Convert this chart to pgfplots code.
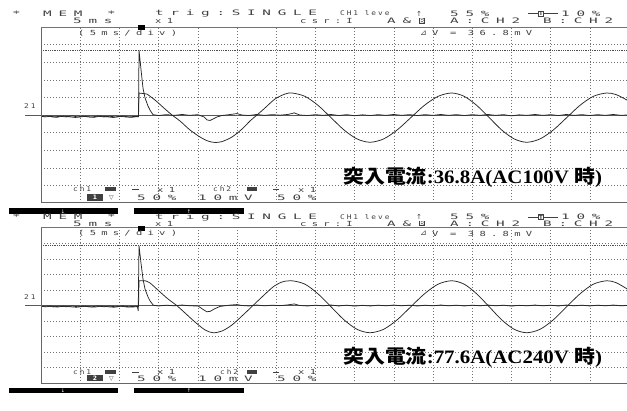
\documentclass[border=0pt]{standalone}
\usepackage{pgfplots}
\pgfplotsset{compat=1.18}
\usepackage{fontspec}
\usepackage{graphicx}
\setmainfont{DejaVu Sans}
\newfontfamily\scr[FakeStretch=1.9,LetterSpace=90]{DejaVu Sans Mono}
\newfontfamily\scm[FakeStretch=1.5,LetterSpace=75]{DejaVu Sans Mono}
\newfontfamily\scn[FakeStretch=1.2,LetterSpace=30]{DejaVu Sans Mono}
\newfontfamily\jp{Noto Sans CJK JP}
\newfontfamily\lser{Liberation Serif}
\definecolor{txt}{gray}{0.25}
\definecolor{grd}{gray}{0.45}
\definecolor{trc}{gray}{0.15}
\pgfplotsset{
  panel/.style={scale only axis, width=588pt, xmin=0, xmax=75, ymin=-5, ymax=5,
    axis line style={draw=none}, xtick={5,10,...,70}, ytick={-4,-3,-2,-1,1,2,3,4},
    tick style={draw=none}, xticklabels={}, yticklabels={}, grid=major,
    major grid style={grd, line width=0.5pt, dash pattern=on 0.6pt off 2.4pt}},
  trace/.style={trc, line width=0.75pt, no marks}
}
\tikzset{
  hdr/.style={anchor=west, inner sep=0, text=txt, font=\scr\fontsize{7.5}{7.5}\selectfont},
  hdm/.style={anchor=west, inner sep=0, text=txt, font=\scm\fontsize{7}{7}\selectfont},
  hdn/.style={anchor=west, inner sep=0, text=txt, font=\scn\fontsize{6.5}{6.5}\selectfont},
  big/.style={anchor=west, inner sep=0, font=\fontsize{19}{19}\selectfont\bfseries}
}
\begin{document}
\begin{tikzpicture}[x=1pt,y=1pt]
\useasboundingbox (0,0) rectangle (627,410);
\clip (0,0) rectangle (627,410);
% ================= TOP HEADER =================
\node[hdr] at (12,396.5) {*};
\node[hdr] at (43,396.5) {MEM};
\node[hdr] at (107,396.5) {*};
\node[hdr] at (155,396.5) {trig:SINGLE};
\node[hdn] at (340,396.5) {CH1 leve};
\node[anchor=west,inner sep=0,text=txt,font=\fontsize{7}{7}\selectfont] at (416,396.5) {↑};
\node[hdr] at (450,396.5) {55\%};
\draw[txt,line width=0.6pt] (528,396.5) -- (558,396.5);
\node[draw=txt,fill=white,inner sep=0.6pt,text=txt,font=\bfseries\fontsize{5.5}{5.5}\selectfont] at (541,396.5) {T};
\node[hdr] at (561,396.5) {10\%};
\node[hdr] at (73,389.2) {5ms};
\node[hdm] at (155,389.2) {x1};
\node[hdm] at (300,389.2) {csr:I};
\node[hdr] at (387,389.2) {A\&};
\node[fill=txt,text=white,inner sep=0.5pt,anchor=west,font=\bfseries\fontsize{6.5}{6.5}\selectfont] at (419,389.2) {B};
\node[hdr] at (450,389.2) {A:CH2};
\node[hdr] at (543,389.2) {B:CH2};
% ================= TOP PANEL =================
\draw[black!65, line width=0.6pt] (25,295) -- (627,295);
\node[hdn] at (24,304) {21};
\begin{axis}[panel, at={(41pt,207pt)}, anchor=south west, height=176pt]
\draw[black!70, line width=0.5pt, dash pattern=on 0.6pt off 1.2pt] (axis cs:0,3.68) -- (axis cs:75,3.68);
\addplot[trace] coordinates {(0,-0.06)(0.5,-0.11)(1.2,-0.07)(2.0,-0.13)(2.8,-0.06)(3.6,-0.10)(4.4,-0.14)(5.2,-0.07)(6.0,-0.10)(6.8,-0.13)(7.6,-0.06)(8.4,-0.10)(9.2,-0.14)(10.0,-0.07)(10.8,-0.11)(11.6,-0.13)(12.44,-0.08)(12.5,1.25)(13.52,1.19)};
\addplot[trace, smooth] coordinates {(13.52,1.19)(14.54,0.85)(15.82,0.34)(16.71,0)(17.73,-0.34)(19.0,-0.85)(20.28,-1.25)(21.3,-1.48)(22.19,-1.56)(23.09,-1.51)(24.36,-1.25)(25.64,-0.80)(26.66,-0.34)(27.55,0)(28.57,0.40)(29.85,0.91)(31.12,1.19)(32.02,1.25)(33.67,1.06)(35.33,0.55)(36.99,-0.15)(38.65,-0.85)(40.31,-1.36)(41.96,-1.55)(43.70,-1.36)(45.43,-0.85)(47.17,-0.15)(48.91,0.55)(50.65,1.06)(52.38,1.25)(53.98,1.06)(55.57,0.55)(57.17,-0.15)(58.76,-0.85)(60.36,-1.36)(61.96,-1.55)(63.65,-1.36)(65.35,-0.85)(67.05,-0.15)(68.75,0.55)(70.45,1.06)(72.15,1.25)(73.34,1.16)(74.74,0.85)(75.5,0.6)};
\addplot[trace] coordinates {(0,-0.10)(0.8,-0.05)(1.6,-0.12)(2.4,-0.07)(3.2,-0.11)(4.0,-0.05)(4.8,-0.12)(5.6,-0.08)(6.4,-0.12)(7.2,-0.06)(8.0,-0.11)(8.8,-0.07)(9.6,-0.12)(10.4,-0.06)(11.2,-0.11)(12.0,-0.08)(12.44,-0.10)(12.5,3.69)(12.76,2.56)(13.01,1.53)(13.27,0.97)(13.65,0.51)(13.90,0.28)(14.29,0.02)(15,-0.03)(16,0.02)(17,-0.02)(18,0.03)(19,-0.02)(20,0.02)(20.79,-0.11)(21.17,-0.28)(21.56,-0.31)(21.94,-0.23)(22.45,-0.11)(23.09,-0.03)(24,0.02)(25,0.08)(25.6,0.0)(26.5,-0.03)(27.5,0.03)(28.5,-0.02)(29.5,0.02)(30.5,-0.01)(31.5,0.03)(32.3,0.12)(33,0.0)(34,-0.03)(35,0.02)(36,-0.02)(37,0.03)(38,-0.03)(39,0.02)(40,-0.04)(41,0.01)(42,-0.03)(43,0.02)(44,-0.02)(45,0.03)(46,-0.02)(47,0.02)(48,-0.03)(49,0.02)(50,-0.02)(51,0.03)(52,-0.02)(53,0.02)(54,-0.03)(55,0.02)(56,-0.02)(57,0.03)(58,-0.02)(59,0.02)(60,-0.05)(61,0.01)(62,-0.02)(63,0.03)(64,-0.02)(65,0.02)(66,-0.03)(67,0.03)(68,-0.02)(69,0.02)(70,-0.03)(71,0.02)(72,-0.02)(73,0.03)(74,-0.02)(75,0.01)};
\end{axis}
\draw[black!60, line width=1pt] (41,383) -- (41,207);
\draw[black!55, line width=0.6pt] (41,383) -- (627,383);
\draw[black!60, line width=1pt] (41,207) -- (627,207);
\fill[black] (138,385) rectangle (145,380);
\node[hdm] at (78,377) {(5ms/div)};
\node[anchor=west,inner sep=0,text=txt,font=\fontsize{8}{8}\selectfont] at (420,377) {⊿};
\node[hdm] at (432,377) {V = 36.8mV};
\node[hdn] at (73,220.5) {ch1};
\fill[txt] (105,222.5) rectangle (116,218.5);
\draw[txt,line width=0.6pt] (132,220.5) -- (139,220.5);
\node[hdm] at (157,220.5) {x1};
\node[hdn] at (213,220.5) {ch2};
\fill[txt] (247,222.5) rectangle (257,218.5);
\draw[txt,line width=0.6pt] (273,220.5) -- (279,220.5);
\node[hdm] at (298,220.5) {x1};
\fill[txt] (87,216) rectangle (103,209);
\node[text=white,inner sep=0,font=\bfseries\fontsize{6}{6}\selectfont] at (95,212.5) {1};
\node[anchor=west,inner sep=0,text=txt,font=\fontsize{6}{6}\selectfont] at (109,212.5) {▽};
\node[hdr] at (137,212.5) {50\%};
\node[hdr] at (198,212.5) {10mV};
\node[hdr] at (277,212.5) {50\%};
\node[big] at (343,233) {\scalebox{1.1}[1]{\jp 突入電流\lser :36.8A(AC100V \jp 時\lser )}};
\fill[black] (9,201.5) rectangle (118,195.5);
\fill[black] (134,201.5) rectangle (244,195.5);
\node[text=white,inner sep=0,font=\fontsize{5}{5}\selectfont] at (63,198.5) {↓};
\node[text=white,inner sep=0,font=\fontsize{5}{5}\selectfont] at (189,198.5) {↑};
% ================= BOTTOM HEADER =================
\node[hdr] at (12,193) {*};
\node[hdr] at (43,193) {MEM};
\node[hdr] at (107,193) {*};
\node[hdr] at (155,193) {trig:SINGLE};
\node[hdn] at (340,193) {CH1 leve};
\node[anchor=west,inner sep=0,text=txt,font=\fontsize{7}{7}\selectfont] at (416,193) {↑};
\node[hdr] at (450,193) {55\%};
\draw[txt,line width=0.6pt] (528,193) -- (558,193);
\node[draw=txt,fill=white,inner sep=0.6pt,text=txt,font=\bfseries\fontsize{5.5}{5.5}\selectfont] at (541,193) {T};
\node[hdr] at (561,193) {10\%};
\node[hdr] at (73,186.5) {5ms};
\node[hdm] at (155,186.5) {x1};
\node[hdm] at (300,186.5) {csr:I};
\node[hdr] at (387,186.5) {A\&};
\node[fill=txt,text=white,inner sep=0.5pt,anchor=west,font=\bfseries\fontsize{6.5}{6.5}\selectfont] at (419,186.5) {B};
\node[hdr] at (450,186.5) {A:CH2};
\node[hdr] at (543,186.5) {B:CH2};
% ================= BOTTOM PANEL =================
\draw[black!65, line width=0.6pt] (25,104.5) -- (627,104.5);
\node[hdn] at (24,112.7) {21};
\begin{axis}[panel, at={(41pt,26.7pt)}, anchor=south west, height=155.6pt]
\draw[black!70, line width=0.5pt, dash pattern=on 0.6pt off 1.2pt] (axis cs:0,3.88) -- (axis cs:75,3.88);
\addplot[trace] coordinates {(0,-0.04)(0.6,-0.09)(1.3,-0.03)(2.1,-0.10)(2.9,-0.04)(3.7,-0.08)(4.5,-0.11)(5.3,-0.04)(6.1,-0.08)(6.9,-0.10)(7.7,-0.03)(8.5,-0.08)(9.3,-0.11)(10.1,-0.04)(10.9,-0.09)(11.7,-0.10)(12.44,-0.06)(12.5,1.59)(13.27,1.59)};
\addplot[trace, smooth] coordinates {(13.27,1.59)(13.9,1.45)(15.18,0.87)(16.2,0.42)(17.31,0)(18.37,-0.48)(19.64,-1.06)(20.92,-1.57)(21.94,-1.75)(23.09,-1.64)(24.36,-1.25)(25.77,-0.61)(27.04,0)(28.32,0.61)(29.59,1.19)(30.74,1.51)(31.98,1.59)(33.67,1.37)(35.33,0.75)(36.99,-0.08)(38.65,-0.92)(40.31,-1.53)(41.96,-1.75)(43.70,-1.53)(45.43,-0.92)(47.17,-0.08)(48.91,0.75)(50.65,1.37)(52.38,1.59)(53.98,1.37)(55.57,0.75)(57.17,-0.08)(58.76,-0.92)(60.36,-1.53)(61.96,-1.75)(63.65,-1.53)(65.35,-0.92)(67.05,-0.08)(68.75,0.75)(70.45,1.37)(72.15,1.59)(73.34,1.47)(74.74,1.07)(75.5,0.8)};
\addplot[trace] coordinates {(0,-0.07)(0.8,-0.03)(1.6,-0.09)(2.4,-0.04)(3.2,-0.08)(4.0,-0.03)(4.8,-0.09)(5.6,-0.05)(6.4,-0.09)(7.2,-0.03)(8.0,-0.08)(8.8,-0.04)(9.6,-0.09)(10.4,-0.03)(11.2,-0.08)(12.0,-0.05)(12.3,-0.06)(12.4,-0.35)(12.5,3.85)(12.76,2.7)(13.01,1.7)(13.27,1.05)(13.65,0.55)(13.9,0.3)(14.32,0.02)(15,-0.03)(16,0.02)(17,-0.02)(18,0.03)(19,-0.02)(20.03,-0.03)(20.66,-0.25)(21.14,-0.40)(21.56,-0.38)(22.19,-0.2)(22.83,-0.06)(24,0.02)(25,0.06)(25.6,0.0)(26.5,-0.03)(27.5,0.03)(28.5,-0.02)(29.5,0.02)(30.5,-0.01)(31.5,0.04)(32.3,0.1)(33,0.0)(34,-0.03)(35,0.02)(36,-0.02)(37,0.03)(38,-0.03)(39,0.02)(40,-0.04)(41,0.01)(42,-0.03)(43,0.02)(44,-0.02)(45,0.03)(46,-0.02)(47,0.02)(48,-0.03)(49,0.02)(50,-0.02)(51,0.03)(52,-0.02)(53,0.02)(54,-0.03)(55,0.02)(56,-0.02)(57,0.03)(58,-0.02)(59,0.02)(60,-0.04)(61,0.01)(62,-0.02)(63,0.03)(64,-0.02)(65,0.02)(66,-0.03)(67,0.03)(68,-0.02)(69,0.02)(70,-0.03)(71,0.02)(72,-0.02)(73,0.03)(74,-0.02)(75,0.01)};
\end{axis}
\draw[black!60, line width=1pt] (41,182.3) -- (41,26.7);
\draw[black!55, line width=0.6pt] (41,182.3) -- (627,182.3);
\draw[black!60, line width=1pt] (41,26.7) -- (627,26.7);
\fill[black] (138,184) rectangle (145,179);
\node[hdm] at (78,176.5) {(5ms/div)};
\node[anchor=west,inner sep=0,text=txt,font=\fontsize{8}{8}\selectfont] at (420,176.5) {⊿};
\node[hdm] at (432,176.5) {V = 38.8mV};
\node[hdn] at (73,38) {ch1};
\fill[txt] (105,40) rectangle (116,36);
\draw[txt,line width=0.6pt] (132,38) -- (139,38);
\node[hdm] at (157,38) {x1};
\node[hdn] at (220,38) {ch2};
\fill[txt] (247,40) rectangle (257,36);
\draw[txt,line width=0.6pt] (273,38) -- (279,38);
\node[hdm] at (298,38) {x1};
\fill[txt] (87,34.5) rectangle (103,28.5);
\node[text=white,inner sep=0,font=\bfseries\fontsize{6}{6}\selectfont] at (95,31.5) {2};
\node[anchor=west,inner sep=0,text=txt,font=\fontsize{6}{6}\selectfont] at (109,31.5) {▽};
\node[hdr] at (137,31.5) {50\%};
\node[hdr] at (198,31.5) {10mV};
\node[hdr] at (277,31.5) {50\%};
\node[big] at (343,53) {\scalebox{1.1}[1]{\jp 突入電流\lser :77.6A(AC240V \jp 時\lser )}};
\fill[black] (9,22.3) rectangle (118,16.7);
\fill[black] (134,22.3) rectangle (244,16.7);
\node[text=white,inner sep=0,font=\fontsize{5}{5}\selectfont] at (63,19.5) {↓};
\node[text=white,inner sep=0,font=\fontsize{5}{5}\selectfont] at (189,19.5) {↑};
\end{tikzpicture}
\end{document}
